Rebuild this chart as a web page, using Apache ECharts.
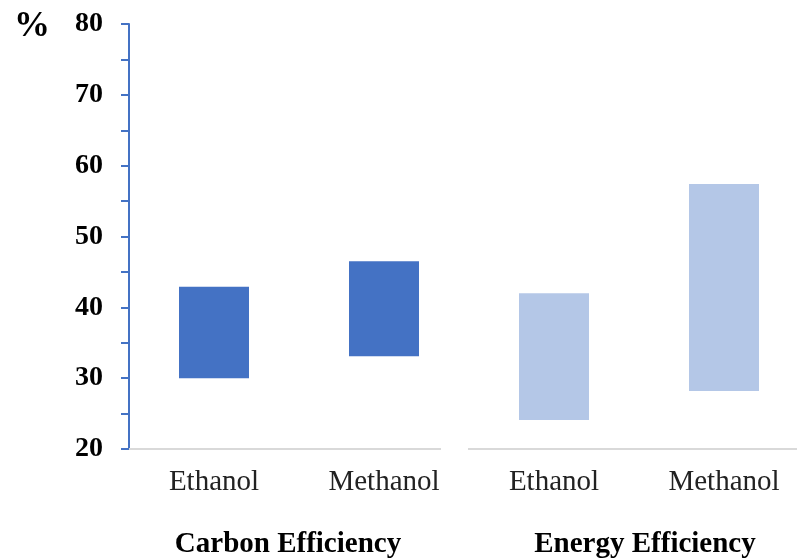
<!DOCTYPE html>
<html>
<head>
<meta charset="utf-8">
<script src="https://cdn.jsdelivr.net/npm/echarts@6/dist/echarts.min.js"></script>
<style>html,body{margin:0;padding:0;background:#fff}#c{width:797px;height:559px}</style>
</head>
<body>
<div id="c"></div>
<script>
const categories = ['Ethanol', 'Methanol', 'Ethanol', 'Methanol'];
const groups = ['Carbon Efficiency', 'Energy Efficiency'];
const lowValues = [30.0, 33.1, 24.1, 28.2];
const highValues = [42.9, 46.5, 42.0, 57.4];
const barColors = ['#4472C4', '#4472C4', '#B4C7E7', '#B4C7E7'];
const yTicks = [20, 30, 40, 50, 60, 70, 80];

const chart = echarts.init(document.getElementById('c'));
const serif = '"Liberation Serif", "Times New Roman", serif';
const groupText = { fontFamily: serif, fontWeight: 'bold', fontSize: 29, color: '#000' };
chart.setOption({
  animation: false,
  grid: { left: 129, width: 680, top: 24, bottom: 110, outerBoundsMode: 'none', containLabel: false },
  graphic: [
    { type: 'rect', shape: { x: 441, y: 445, width: 27, height: 8 }, style: { fill: '#fff' }, z: 100 },
    { type: 'text', left: 14, top: 9, style: { text: '%', font: 'bold 36px ' + serif, fill: '#000' } }
  ],
  xAxis: [
    {
      type: 'category', data: categories, position: 'bottom',
      axisLine: { lineStyle: { color: '#D9D9D9', width: 2 } },
      axisTick: { show: false },
      axisLabel: { fontFamily: serif, fontSize: 29, color: '#222', margin: 19 }
    },
    {
      type: 'category', data: groups, position: 'bottom', offset: 73,
      axisLine: { show: false }, axisTick: { show: false },
      axisLabel: {
        formatter: (v, i) => (i === 0 ? '{a|' : '{b|') + v + '}',
        rich: {
          a: Object.assign({ padding: [0, 22, 0, 0] }, groupText),
          b: Object.assign({ padding: [0, 0, 0, 12] }, groupText)
        }
      }
    }
  ],
  yAxis: {
    type: 'value', min: yTicks[0], max: yTicks[yTicks.length - 1], interval: 10,
    axisLine: { show: true, lineStyle: { color: '#4472C4', width: 2 } },
    axisTick: { show: true, length: 8, lineStyle: { color: '#4472C4', width: 2 } },
    minorTick: { show: true, splitNumber: 2, length: 8, lineStyle: { color: '#4472C4', width: 2 } },
    splitLine: { show: false },
    axisLabel: { fontFamily: serif, fontWeight: 'bold', fontSize: 28, color: '#000', margin: 26 }
  },
  series: [
    {
      type: 'bar', stack: 'r', xAxisIndex: 0, data: lowValues,
      itemStyle: { color: 'transparent' }, barWidth: 70, silent: true
    },
    {
      type: 'bar', stack: 'r', xAxisIndex: 0, barWidth: 70,
      data: highValues.map((h, i) => ({ value: +(h - lowValues[i]).toFixed(2), itemStyle: { color: barColors[i] } }))
    }
  ]
});
</script>
</body>
</html>
